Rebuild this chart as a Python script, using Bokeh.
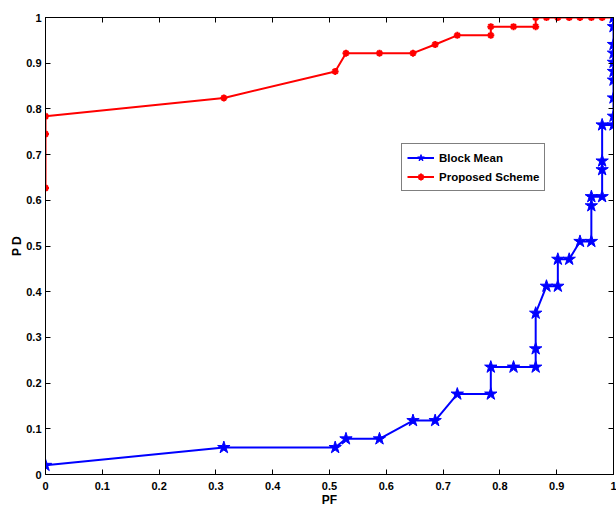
from bokeh.plotting import figure
from bokeh.models import Range1d, FixedTicker, Legend, LegendItem, LinearAxis
from bokeh.embed import file_html
from bokeh.resources import INLINE

# Block Mean curve (PF, PD)
pf_block = [0.0, 0.314, 0.510, 0.529, 0.588, 0.647, 0.686, 0.725, 0.784, 0.784,
            0.824, 0.863, 0.863, 0.863, 0.882, 0.902, 0.902, 0.922, 0.941, 0.961,
            0.961, 0.961, 0.980, 0.980, 0.980, 0.980, 1.0, 1.0, 1.0, 1.0,
            1.0, 1.0, 1.0, 1.0, 1.0, 1.0]
pd_block = [0.020, 0.059, 0.059, 0.078, 0.078, 0.118, 0.118, 0.176, 0.176, 0.235,
            0.235, 0.235, 0.275, 0.353, 0.412, 0.412, 0.471, 0.471, 0.510, 0.510,
            0.588, 0.608, 0.608, 0.667, 0.686, 0.765, 0.765, 0.784, 0.824, 0.863,
            0.882, 0.902, 0.922, 0.941, 0.980, 1.0]

# Proposed Scheme curve (PF, PD)
pf_prop = [0.0, 0.0, 0.0, 0.314, 0.510, 0.529, 0.588, 0.647, 0.686, 0.725,
           0.784, 0.784, 0.824, 0.863, 0.863, 0.882, 0.902, 0.922, 0.941, 0.961,
           0.980, 1.0]
pd_prop = [0.627, 0.745, 0.784, 0.824, 0.882, 0.922, 0.922, 0.922, 0.941, 0.961,
           0.961, 0.980, 0.980, 0.980, 1.0, 1.0, 1.0, 1.0, 1.0, 1.0,
           1.0, 1.0]

tick_vals = [0, 0.1, 0.2, 0.3, 0.4, 0.5, 0.6, 0.7, 0.8, 0.9, 1]
tick_labels = ["0", "0.1", "0.2", "0.3", "0.4", "0.5", "0.6", "0.7", "0.8", "0.9", "1"]

FONT = "Liberation Sans"

p = figure(width=616, height=509, x_range=Range1d(0, 1), y_range=Range1d(0, 1),
           output_backend="svg", toolbar_location=None,
           min_border_left=45, min_border_right=3, min_border_top=17, min_border_bottom=34)
p.xgrid.visible = False
p.ygrid.visible = False
p.outline_line_color = "black"
p.outline_line_width = 1

overrides = {v: l for v, l in zip(tick_vals, tick_labels)}
blank = {v: "" for v in tick_vals}

for ax in (p.xaxis[0], p.yaxis[0]):
    ax.ticker = FixedTicker(ticks=tick_vals)
    ax.major_tick_in = 5
    ax.major_tick_out = 0
    ax.minor_tick_line_color = None
    ax.axis_line_color = "black"
    ax.major_tick_line_color = "black"
    ax.major_label_overrides = overrides
    ax.major_label_text_font = FONT
    ax.major_label_text_font_style = "bold"
    ax.major_label_text_font_size = "11px"
    ax.major_label_text_color = "black"
    ax.axis_label_text_font = FONT
    ax.axis_label_text_font_style = "bold"
    ax.axis_label_text_font_size = "12px"
    ax.axis_label_text_color = "black"

p.xaxis[0].major_label_standoff = 7
p.xaxis[0].axis_label_standoff = 0
p.yaxis[0].major_label_standoff = 4
p.yaxis[0].axis_label_standoff = -1

p.xaxis[0].axis_label = "PF"
p.yaxis[0].axis_label = "P D"

# box ticks on top and right (no labels)
for side in ("above", "right"):
    ax = LinearAxis(ticker=FixedTicker(ticks=tick_vals), major_label_overrides=blank,
                    major_tick_in=5, major_tick_out=0, minor_tick_line_color=None,
                    major_label_standoff=0, axis_line_color="black",
                    major_tick_line_color="black")
    p.add_layout(ax, side)

rl = p.line(pf_prop, pd_prop, line_color="red", line_width=2)
rm = p.scatter(pf_prop, pd_prop, marker="asterisk", size=7, line_color="red", line_width=2)
bl = p.line(pf_block, pd_block, line_color="blue", line_width=2)
bm = p.scatter(pf_block, pd_block, marker="star", size=13, fill_color="blue", line_color="blue")

legend = Legend(items=[LegendItem(label="Block Mean", renderers=[bl, bm]),
                       LegendItem(label="Proposed Scheme", renderers=[rl, rm])],
                location=(356, 283))
legend.label_text_font = FONT
legend.label_text_font_style = "bold"
legend.label_text_font_size = "11.5px"
legend.label_text_color = "black"
legend.border_line_color = "black"
legend.border_line_width = 1
legend.background_fill_alpha = 1
legend.glyph_width = 27
legend.glyph_height = 17
legend.label_height = 17
legend.label_standoff = 5
legend.spacing = 2
legend.padding = 5
legend.margin = 0
p.add_layout(legend)

open("out.html", "w").write(file_html(p, INLINE))
